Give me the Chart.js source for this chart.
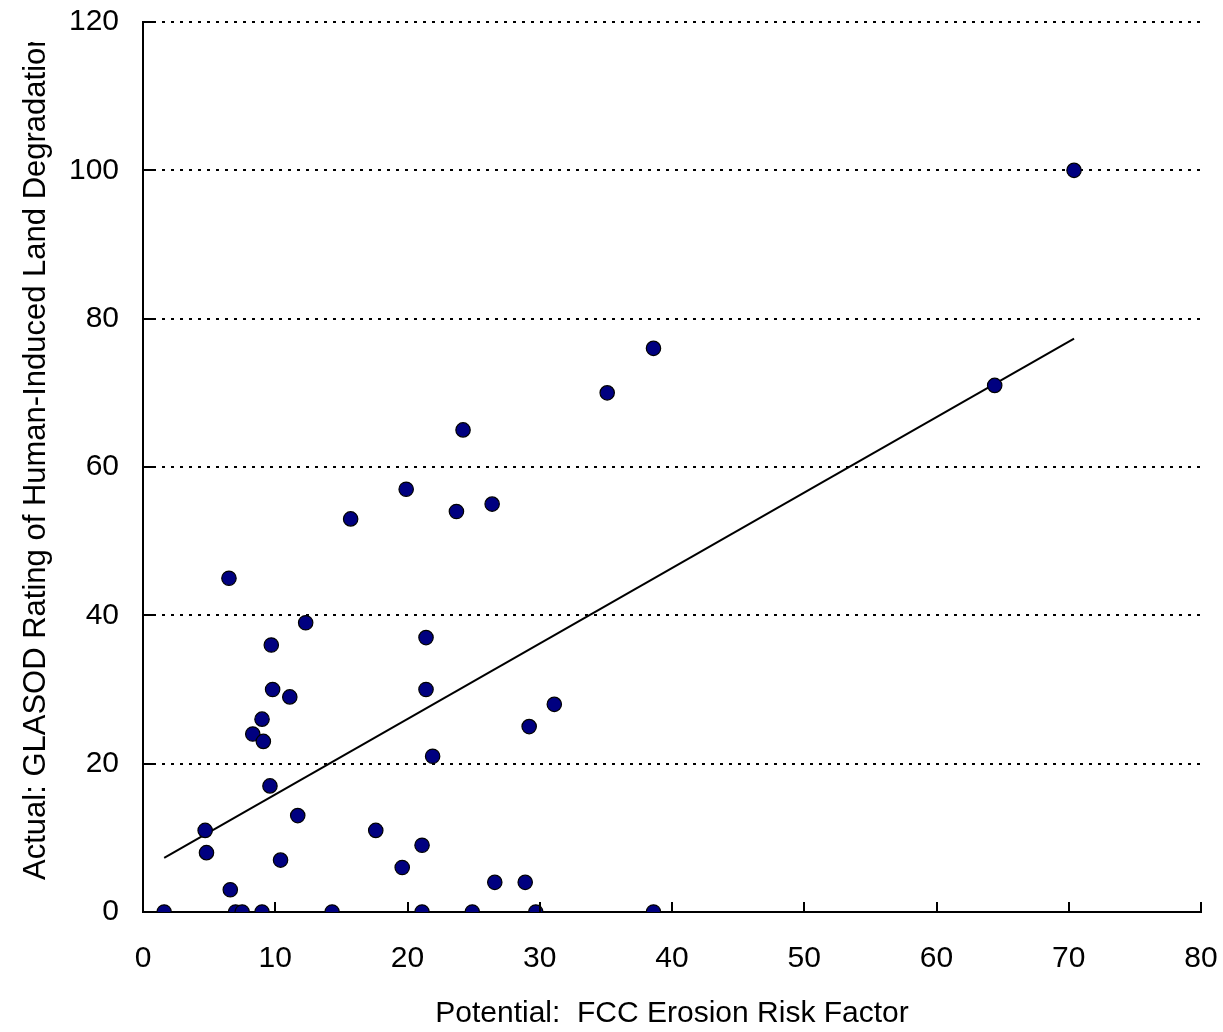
<!DOCTYPE html>
<html>
<head>
<meta charset="utf-8">
<script src="https://cdn.jsdelivr.net/npm/chart.js@4/dist/chart.umd.min.js"></script>
<style>
  html, body { margin: 0; padding: 0; background: #ffffff; }
  canvas { display: block; }
</style>
</head>
<body>
<canvas id="c" width="1223" height="1032"></canvas>
<script>
// ---- Data ----
const xValues = [1.6, 7.0, 7.5, 9.0, 14.3, 21.1, 24.9, 29.7, 38.6,
  4.7, 4.8, 6.5, 6.6, 8.3, 9.0, 9.1, 9.6, 9.7, 9.8, 10.4, 11.1, 11.7, 12.3,
  15.7, 17.6, 19.6, 19.9, 21.1, 21.4, 21.4, 21.9, 23.7, 24.2, 26.4, 26.6,
  28.9, 29.2, 31.1, 35.1, 38.6, 64.4, 70.4];
const yValues = [0, 0, 0, 0, 0, 0, 0, 0, 0,
  11, 8, 45, 3, 24, 26, 23, 17, 36, 30, 7, 29, 13, 39,
  53, 11, 6, 57, 9, 37, 30, 21, 54, 65, 55, 4,
  4, 25, 28, 70, 76, 71, 100];
const trendX = [1.6, 70.4];
const trendY = [7.3, 77.3];
const xTicks = [0, 10, 20, 30, 40, 50, 60, 70, 80];
const yTicks = [0, 20, 40, 60, 80, 100, 120];
const xTitle = 'Potential:  FCC Erosion Risk Factor';
const yTitle = 'Actual: GLASOD Rating of Human-Induced Land Degradation';

const FONT = "'Liberation Sans', Arial, sans-serif";

const points = xValues.map((x, i) => ({ x: x, y: yValues[i] }));
const trend = trendX.map((x, i) => ({ x: x, y: trendY[i] }));

// inner tick marks + clipped y title
const extras = {
  id: 'extras',
  afterDraw(chart) {
    const ctx = chart.ctx;
    const xs = chart.scales.x, ys = chart.scales.y;
    const area = chart.chartArea;
    ctx.save();
    ctx.strokeStyle = '#000';
    ctx.lineWidth = 2;
    ctx.beginPath();
    xTicks.forEach(v => {
      if (v === xTicks[0]) return;
      const px = Math.round(xs.getPixelForValue(v));
      ctx.moveTo(px, area.bottom);
      ctx.lineTo(px, area.bottom - 10);
    });
    yTicks.forEach(v => {
      if (v === yTicks[0]) return;
      const py = Math.round(ys.getPixelForValue(v));
      ctx.moveTo(area.left, py);
      ctx.lineTo(area.left + 10, py);
    });
    ctx.stroke();
    ctx.restore();

    // y-axis title (clipped at the top as in the reference)
    ctx.save();
    ctx.beginPath();
    ctx.rect(0, 42, area.left - 30, chart.height);
    ctx.clip();
    ctx.translate(45, 880);
    ctx.rotate(-Math.PI / 2);
    ctx.font = '31px ' + FONT;
    ctx.fillStyle = '#000';
    ctx.textAlign = 'left';
    ctx.textBaseline = 'alphabetic';
    ctx.fillText(yTitle, 0, 0);
    ctx.restore();
  }
};

new Chart(document.getElementById('c'), {
  type: 'scatter',
  data: {
    datasets: [
      {
        label: 'Countries',
        data: points,
        order: 1,
        pointRadius: 7.2,
        pointHoverRadius: 7.2,
        pointBackgroundColor: '#000080',
        pointBorderColor: '#000000',
        pointBorderWidth: 1.2,
        showLine: false
      },
      {
        label: 'Trend',
        type: 'line',
        data: trend,
        order: 2,
        borderColor: '#000000',
        borderWidth: 2,
        pointRadius: 0,
        fill: false,
        tension: 0
      }
    ]
  },
  options: {
    responsive: false,
    animation: false,
    devicePixelRatio: 1,
    layout: { padding: { left: 0, right: 22, top: 22, bottom: 0 } },
    plugins: {
      legend: { display: false },
      tooltip: { enabled: false }
    },
    scales: {
      x: {
        type: 'linear',
        min: 0, max: 80,
        afterBuildTicks(scale) { scale.ticks = xTicks.map(v => ({ value: v })); },
        afterFit(scale) {
          scale.height = 120;
          scale.paddingLeft = 0; scale.paddingRight = 0;
        },
        grid: { display: false, drawTicks: false },
        border: { display: true, color: '#000', width: 2 },
        ticks: {
          color: '#000',
          font: { family: FONT, size: 30 },
          padding: 29,
          maxRotation: 0
        },
        title: {
          display: true,
          text: xTitle,
          color: '#000',
          font: { family: FONT, size: 30 },
          padding: { top: 0, bottom: 0 }
        }
      },
      y: {
        type: 'linear',
        min: 0, max: 120,
        afterBuildTicks(scale) { scale.ticks = yTicks.map(v => ({ value: v })); },
        afterFit(scale) {
          scale.width = 143;
          scale.paddingTop = 0; scale.paddingBottom = 0;
        },
        grid: {
          display: true,
          drawTicks: false,
          lineWidth: 2,
          color: ctx => (ctx.tick && ctx.tick.value === 0) ? 'rgba(0,0,0,0)' : '#000'
        },
        border: { display: true, color: '#000', width: 2, dash: [3, 6] },
        ticks: {
          color: '#000',
          font: { family: FONT, size: 30 },
          padding: 24
        },
        title: { display: false }
      }
    }
  },
  plugins: [extras]
});
</script>
</body>
</html>
